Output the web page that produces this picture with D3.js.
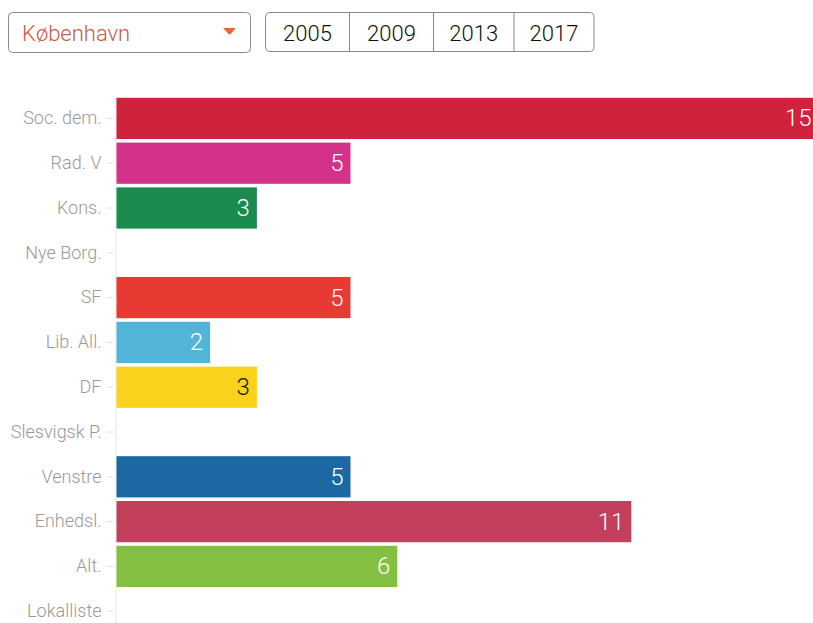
<!DOCTYPE html>
<html><head><meta charset="utf-8">
<script src="https://cdn.jsdelivr.net/npm/d3@7"></script>
<style>
html,body{margin:0;padding:0;background:#fff;overflow:hidden;}
body{width:813px;height:623px;font-family:Roboto,"Noto Sans",sans-serif;}
</style></head>
<body>
<svg id="chart" width="813" height="623"></svg>
<script>
const municipality = "København";
const years = ["2005", "2009", "2013", "2017"];
const parties = ["Soc. dem.", "Rad. V", "Kons.", "Nye Borg.", "SF", "Lib. All.", "DF", "Slesvigsk P.", "Venstre", "Enhedsl.", "Alt.", "Lokalliste"];
const seats = [15, 5, 3, 0, 5, 2, 3, 0, 5, 11, 6, 0];
const colors = ["#d0213d", "#d43288", "#1a8a4f", "#999999", "#e83a32", "#53b4da", "#f9d31b", "#999999", "#1b68a3", "#c2405c", "#83bf40", "#999999"];
const labelColors = ["#fff", "#fff", "#fff", "#fff", "#fff", "#fff", "#111", "#fff", "#fff", "#fff", "#fff", "#fff"];

const svg = d3.select("#chart");

// Controls
const ctrl = svg.append("g");
ctrl.append("rect").attr("x", 8.5).attr("y", 12.5).attr("width", 242).attr("height", 40)
  .attr("rx", 4).attr("fill", "#fff").attr("stroke", "#8a8a8a");
ctrl.append("text").attr("x", 22).attr("y", 41).attr("font-size", 22).attr("font-weight", 300)
  .attr("fill", "#c85a44").text(municipality);
ctrl.append("path").attr("d", "M223,28 L236,28 L229.5,35 Z").attr("fill", "#e8643c");

const bx = d3.scaleOrdinal().domain(years).range([265.5, 349.5, 433.5, 514]);
const bw = [84, 84, 80.5, 80];
ctrl.append("rect").attr("x", 265.5).attr("y", 12.5).attr("width", 328.5).attr("height", 39)
  .attr("rx", 4).attr("fill", "#fff").attr("stroke", "#8a8a8a");
years.forEach((y, i) => {
  if (i > 0) ctrl.append("line").attr("x1", bx(y)).attr("x2", bx(y)).attr("y1", 13).attr("y2", 51)
    .attr("stroke", "#8a8a8a");
  ctrl.append("text").attr("x", bx(y) + bw[i] / 2).attr("y", 41).attr("text-anchor", "middle")
    .attr("font-size", 22).attr("font-weight", 300).attr("fill", "#111").text(y);
});

// Chart
const x = d3.scaleLinear().domain([0, 15]).range([116.5, 818.5]);
const yS = d3.scaleBand().domain(parties).range([96, 633.6]).paddingInner(0.08).paddingOuter(0.04);

const axis = d3.axisLeft(yS).tickSize(7).tickPadding(7);
const ag = svg.append("g").attr("transform", "translate(115.5,0)").call(axis);
ag.select(".domain").attr("stroke", "#e6e6e6").attr("d", "M0.5,96V623");
ag.selectAll(".tick line").attr("stroke", "#e0e0e0").attr("x2", -9).attr("x1", -2);
ag.selectAll(".tick text").attr("font-size", 18).attr("font-weight", 300).attr("fill", "#999")
  .attr("font-family", "Roboto, sans-serif").attr("x", -14);

const data = parties.map((p, i) => ({p, v: seats[i], c: colors[i], lc: labelColors[i]}));
svg.append("g").selectAll("rect").data(data.filter(d => d.v > 0)).join("rect")
  .attr("x", x(0)).attr("y", d => yS(d.p)).attr("width", d => x(d.v) - x(0))
  .attr("height", yS.bandwidth()).attr("fill", d => d.c);

svg.append("g").selectAll("text").data(data.filter(d => d.v > 0)).join("text")
  .attr("x", d => x(d.v) - 7).attr("y", d => yS(d.p) + yS.bandwidth() / 2 + 8)
  .attr("text-anchor", "end").attr("font-size", 24).attr("font-weight", 300).attr("fill", d => d.lc)
  .text(d => d.v);
</script>
</body></html>
